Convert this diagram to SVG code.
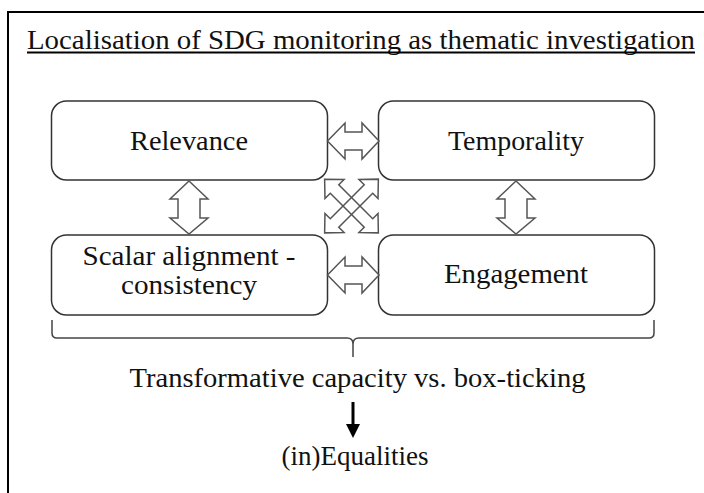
<svg xmlns="http://www.w3.org/2000/svg" width="704" height="493" viewBox="0 0 704 493">
<style>
.t{font-size:28px;text-anchor:middle;fill:#111;}
.box{fill:#fff;stroke:#333;stroke-width:1.5;}
.blk{fill:#fff;stroke:#555;stroke-width:1.5;stroke-linejoin:miter;}
.x{fill:none;stroke:#555;stroke-width:1.5;}
</style>
<rect width="704" height="493" fill="#fff"/>
<rect x="8" y="12" width="700" height="500" fill="none" stroke="#000" stroke-width="2"/>
<g font-family="'Liberation Serif', 'DejaVu Serif', serif">
<g id="title">
<text x="27" y="49" font-size="28" fill="#111" textLength="668" lengthAdjust="spacingAndGlyphs">Localisation of SDG monitoring as thematic investigation</text>
<line x1="27" y1="52.5" x2="695" y2="52.5" stroke="#000" stroke-width="2"/>
</g>
<g id="relevance"><rect class="box" x="51.5" y="101" width="276" height="79" rx="15"/><text class="t" x="189" y="150" textLength="118" lengthAdjust="spacingAndGlyphs">Relevance</text></g>
<g id="temporality"><rect class="box" x="378.5" y="101" width="276" height="79" rx="15"/><text class="t" x="516" y="150" textLength="136" lengthAdjust="spacingAndGlyphs">Temporality</text></g>
<g id="scalar"><rect class="box" x="51.5" y="235" width="276" height="80" rx="15"/><text class="t" x="189" y="265" textLength="213" lengthAdjust="spacingAndGlyphs">Scalar alignment -</text><text class="t" x="189" y="294" textLength="136" lengthAdjust="spacingAndGlyphs">consistency</text></g>
<g id="engagement"><rect class="box" x="378.5" y="235" width="276" height="80" rx="15"/><text class="t" x="516" y="283" textLength="144" lengthAdjust="spacingAndGlyphs">Engagement</text></g>
<g id="capacity"><text class="t" x="357.5" y="387" textLength="456" lengthAdjust="spacingAndGlyphs">Transformative capacity vs. box-ticking</text></g>
<g id="equalities"><text class="t" x="355" y="465" textLength="147" lengthAdjust="spacingAndGlyphs">(in)Equalities</text></g>
</g>
<g id="connectors">
<polygon class="blk" points="327.5,141 345,123 345,132 362,132 362,123 379,141 362,159 362,150 345,150 345,159"/>
<polygon class="blk" points="327.5,275 345,257 345,266 362,266 362,257 379,275 362,293 362,284 345,284 345,293"/>
<polygon class="blk" points="189,181 208,199 200,199 200,218 208,218 189,234 170,218 178,218 178,199 170,199"/>
<polygon class="blk" points="516,181 535,199 527,199 527,218 535,218 516,234 497,218 505,218 505,199 497,199"/>
<g transform="translate(351.5,206) rotate(45)">
<polygon class="x" points="-38,0 -24,-13.5 -24,-6 24,-6 24,-13.5 38,0 24,13.5 24,6 -24,6 -24,13.5"/>
</g>
<g transform="translate(351.5,206) rotate(-45)">
<polygon class="x" points="-38,0 -24,-13.5 -24,-6 24,-6 24,-13.5 38,0 24,13.5 24,6 -24,6 -24,13.5"/>
</g>
<path d="M52,320 L52,333 Q52,338 57,338 L347,338 Q353,338 353,344 L353,357 M353,344 Q353,338 359,338 L649,338 Q654,338 654,333 L654,320" fill="none" stroke="#444" stroke-width="1.5"/>
<line x1="353" y1="402" x2="353" y2="426" stroke="#000" stroke-width="3"/>
<polygon points="346,424 360,424 353,438" fill="#000"/>
</g>
</svg>
